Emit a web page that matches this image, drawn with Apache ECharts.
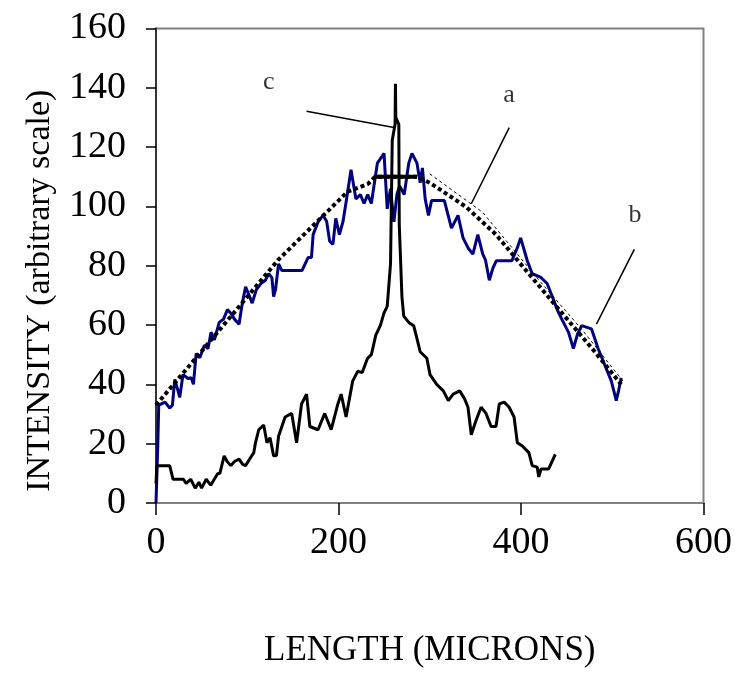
<!DOCTYPE html>
<html><head><meta charset="utf-8">
<script src="https://cdn.jsdelivr.net/npm/echarts@6/dist/echarts.min.js"></script>
<style>html,body{margin:0;padding:0;background:#fff}#c{width:735px;height:673px}</style>
</head><body><div id="c"></div>
<script>
// measured profile (blue)
var blueX = [0,2,3,10,15,18,20.6,24,26,29.6,35,38.6,41,44,48,53,57,60.3,64,69.3,74,78.3,82,86,91,94.6,98.2,102,105.4,110,115,119.9,123.5,127,128.9,131,134.3,138,150,160,166.8,170.4,172.2,177.6,183,187,190.3,193.9,197,201,205,208.3,213.7,219.1,224,228,232,236,242.6,249.9,253.4,257,260.7,264,267,272,277,280.5,286,289.5,292,295,298.6,302,316,323.8,331,336.5,342,347.3,352.7,358,361,365.3,369,373,390,396,399.6,406.9,412.3,421.3,428.6,435.7,440,444.8,452,457.4,462,466.5,477.3,484.5,491.7,499,504.4,507,509.8];
var blueY = [0,20,33,34,32,33,41.7,38,35.6,43.3,42,42.2,40,50.4,49,53.2,52,57.6,55,60.9,62,65.2,64,62,60.3,67.4,72.9,70,67.4,72,74,75.1,77.3,76,69.6,72,80.6,78.4,78.4,78.4,82.8,82.8,90.5,94.8,97,95,88.3,87.2,96,90.5,95,101.4,112.4,102.5,104,101,104,101,114.6,117.9,99.2,106,94.8,104,106.9,104,114.6,117.9,114.6,108,113,102.5,97,102,102,92.7,97,89.4,86,83.9,90.5,84,82,75.1,79,81.7,81.7,86.1,89.4,81.7,77.3,76.2,74,68.5,65,61.9,57.6,52.1,57,59.8,58.7,52.1,46.6,41.1,34.5,38,42.2];
// model profile a (thick dotted)
var aX = [0,55,134,210,232,240,286,300,340,372.6,408.6,444.8,480.9,509.8];
var aY = [33,53,82,105,107.5,110,110,108,99.8,90.5,77.3,64.1,51,40];
// plateau bar
var barX = [240,286];
var barY = [110,110];
// thin dashed fit (right flank)
var fitX = [300,358,420,466.5,512];
var fitY = [111,98,75,58.6,41];
// profile c (sharp peak)
var cX = [0,1,15,18.7,25,30,33,38,43,47,50,55,60,67.5,70,74.7,78,82,86,91,95,98.2,103,107.2,109,112.6,118,119.9,121.6,125,128.9,132,134.3,141.5,148.7,154.1,159.5,165,168.6,177.6,184.9,192,199.3,202.9,208.3,215.5,221,226,231.8,236,240.8,246,249.9,253.4,257,258.9,262,262.4,262.8,266.1,266.6,268.6,269.5,271.5,277,282.4,286,289.5,296.8,300.3,307.6,314.9,320.3,325.7,332.8,338.2,341.9,345.5,350.9,356.3,361.7,367.2,372.6,376.2,381.6,387,392.4,396,401.5,408.6,412.3,417.7,419.5,422,430.3,437.6];
var cY = [6.6,12.6,12.6,8,8,8,6.6,8,5,7,5,8,6,9.9,10,15.9,14,12.6,14,14.8,13,12.6,15,17,20.3,24.7,26.3,26.9,20.3,22,15.9,16,22.5,29,30.2,20.3,33.4,36.7,25.8,24.7,30.2,24.7,33.4,36.7,29,41.1,44.4,44,48.8,50,56.5,60,64.1,66.3,80.6,122.3,127.7,141.4,130,127.7,93.8,77.3,69.6,63,60.9,59.8,55.4,51,48.8,43.3,40,37.8,34.5,36.7,37.8,35.1,32.3,23,28,32.3,30.2,25.8,25.8,33.4,34,32.3,29,20.3,19.2,17,12.6,12.1,8.8,11.5,11.5,16.4];
// annotation labels and leader lines
var labelNames = ['a','b','c'];
var labelX = [387,525,123.5];
var labelY = [137.6,97,142];
var leaderA = [[387.1,126.6],[345.5,100.9]];
var leaderB = [[524.2,85.5],[482.7,60.3]];
var leaderC = [[165,132.1],[260.7,126.6]];
var xTicks = [0,200,400,600];
var yTicks = [0,20,40,60,80,100,120,140,160];

function zip(xs, ys){ return xs.map(function(x,i){return [x, ys[i]];}); }
var FONT = 'Liberation Serif';
var chart = echarts.init(document.getElementById('c'), null, {renderer:'canvas'});
chart.setOption({
  animation:false,
  grid:{left:156,right:25,top:28.5,bottom:158,show:true,borderColor:'#808080',borderWidth:2,backgroundColor:'#fff'},
  xAxis:{type:'value',min:xTicks[0],max:xTicks[xTicks.length-1],interval:200,
    name:'LENGTH (MICRONS)',nameLocation:'middle',nameGap:130,
    nameTextStyle:{fontFamily:FONT,fontSize:35,color:'#000'},
    axisLine:{show:true,onZero:false,lineStyle:{color:'#808080',width:2}},
    axisTick:{show:true,length:12,lineStyle:{color:'#000',width:1.5}},
    axisLabel:{fontFamily:FONT,fontSize:38,color:'#000',margin:21},
    splitLine:{show:false}},
  yAxis:{type:'value',min:yTicks[0],max:yTicks[yTicks.length-1],interval:20,
    name:'INTENSITY (arbitrary scale)',nameLocation:'middle',nameGap:99,nameRotate:90,
    nameTextStyle:{fontFamily:FONT,fontSize:34,color:'#000',padding:[0,50,0,0]},
    axisLine:{show:true,lineStyle:{color:'#333',width:2}},
    axisTick:{show:true,length:10,lineStyle:{color:'#000',width:1.5}},
    axisLabel:{fontFamily:FONT,fontSize:38,color:'#000',margin:30},
    splitLine:{show:false}},
  series:[
    {type:'line',name:'measured',data:zip(blueX,blueY),showSymbol:false,lineStyle:{color:'#000080',width:3},z:3},
    {type:'line',name:'fit',data:zip(fitX,fitY),showSymbol:false,lineStyle:{color:'#000',width:1,type:[3,3]},z:4},
    {type:'line',name:'a',data:zip(aX,aY),showSymbol:false,lineStyle:{color:'#000',width:4,type:[4,3],cap:'butt'},z:5},
    {type:'line',name:'plateau',data:zip(barX,barY),showSymbol:false,lineStyle:{color:'#000',width:4},z:5},
    {type:'line',name:'c',data:zip(cX,cY),showSymbol:false,lineStyle:{color:'#000',width:3},z:6},
    {type:'line',data:leaderA,showSymbol:false,lineStyle:{color:'#000',width:1.5},z:7},
    {type:'line',data:leaderB,showSymbol:false,lineStyle:{color:'#000',width:1.5},z:7},
    {type:'line',data:leaderC,showSymbol:false,lineStyle:{color:'#000',width:1.5},z:7},
    {type:'scatter',data:labelNames.map(function(n,i){return {value:[labelX[i],labelY[i]],name:n};}),
      symbolSize:0,z:8,
      label:{show:true,position:'inside',formatter:function(p){return p.name;},fontFamily:FONT,fontSize:26,color:'#000'}}
  ]
});
</script></body></html>
